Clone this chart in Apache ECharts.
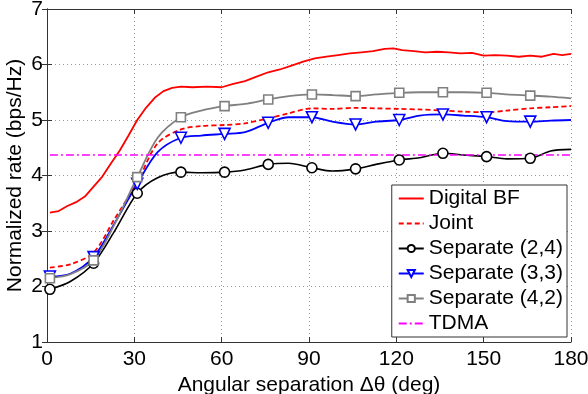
<!DOCTYPE html>
<html>
<head>
<meta charset="utf-8">
<script src="https://cdn.jsdelivr.net/npm/echarts@6/dist/echarts.min.js"></script>
<style>
  html, body { margin: 0; padding: 0; background: #fff; }
  #main { width: 588px; height: 394px; }
</style>
</head>
<body>
<div id="main"></div>
<script>
// angles (deg)
var angles = [1, 8, 16, 23, 31, 38, 46, 53, 61, 68, 76, 83, 91, 98, 106, 113, 121, 128, 136, 143, 151, 158, 166, 173, 180]
var markerAngles = [1, 16, 31, 46, 61, 76, 91, 106, 121, 136, 151, 166]

var bfAngles = [1, 4, 7, 10, 13, 16, 19, 22, 25, 28, 31, 34, 37, 40, 43, 46, 50, 55, 60, 64, 68, 72, 76, 80, 84, 88, 92, 96, 100, 104, 108, 112, 116, 119, 122, 126, 130, 134, 138, 142, 146, 150, 154, 158, 162, 166, 170, 174, 177, 180]
var digitalBF = [3.33, 3.36, 3.45, 3.52, 3.62, 3.80, 3.98, 4.22, 4.45, 4.72, 5.00, 5.22, 5.40, 5.52, 5.58, 5.60, 5.59, 5.60, 5.59, 5.65, 5.70, 5.78, 5.86, 5.91, 5.98, 6.05, 6.11, 6.14, 6.17, 6.20, 6.22, 6.24, 6.28, 6.29, 6.26, 6.24, 6.22, 6.23, 6.22, 6.20, 6.21, 6.16, 6.17, 6.16, 6.14, 6.16, 6.14, 6.19, 6.17, 6.19]

var joint = [2.34, 2.40, 2.61, 3.20, 3.88, 4.58, 4.83, 4.89, 4.91, 4.94, 5.03, 5.12, 5.21, 5.20, 5.22, 5.21, 5.20, 5.19, 5.17, 5.15, 5.14, 5.17, 5.21, 5.23, 5.25]
var sep24 = [1.95, 2.09, 2.42, 2.98, 3.68, 3.96, 4.06, 4.05, 4.06, 4.10, 4.20, 4.22, 4.14, 4.08, 4.12, 4.20, 4.28, 4.32, 4.40, 4.37, 4.34, 4.30, 4.31, 4.44, 4.47]
var sep33 = [2.18, 2.23, 2.53, 3.12, 3.85, 4.42, 4.68, 4.72, 4.75, 4.78, 4.95, 5.05, 5.05, 4.97, 4.92, 4.97, 5.00, 5.08, 5.10, 5.08, 5.05, 4.98, 4.97, 4.99, 5.00]
var sep42 = [2.15, 2.22, 2.47, 3.10, 3.97, 4.68, 5.05, 5.17, 5.25, 5.29, 5.37, 5.43, 5.46, 5.45, 5.43, 5.46, 5.49, 5.50, 5.50, 5.50, 5.49, 5.46, 5.44, 5.42, 5.39]

var tdmaAngles = [1, 180]
var tdma = [4.37, 4.37]

var names = ['Digital BF', 'Joint', 'Separate (2,4)', 'Separate (3,3)', 'Separate (4,2)', 'TDMA']

var font = 'Liberation Sans, Arial, sans-serif'

function pairs(xs, ys) {
    return xs.map(function (x, i) { return [x, ys[i]] })
}

// markers only at markerAngles
function marked(xs, ys) {
    return xs.map(function (x, i) {
        if (markerAngles.indexOf(x) >= 0) return [x, ys[i]]
        return { value: [x, ys[i]], symbol: 'none' }
    })
}

// plain line in the legend (no symbol)
var noMark = { color: 'rgba(0,0,0,0)', borderColor: 'rgba(0,0,0,0)', borderWidth: 0 }

var myChart = echarts.init(document.getElementById('main'))

var axisLine = { show: true, lineStyle: { color: '#333', width: 1 } }

myChart.setOption({
    animation: false,
    backgroundColor: '#fff',
    textStyle: { fontFamily: font },
    grid: { left: 47, right: 17, top: 9, bottom: 52, outerBoundsMode: 'none' },
    legend: {
        data: [
            { name: names[0], itemStyle: noMark },
            { name: names[1], itemStyle: noMark },
            names[2], names[3], names[4],
            { name: names[5], itemStyle: noMark }
        ],
        orient: 'vertical',
        right: 21,
        bottom: 57,
        backgroundColor: '#fff',
        borderColor: '#333',
        borderWidth: 1,
        borderRadius: 0,
        padding: [3, 4, 3, 6],
        itemWidth: 25,
        itemHeight: 9,
        itemGap: 4,
        textStyle: { fontFamily: font, fontSize: 21, color: '#000', lineHeight: 21 }
    },
    xAxis: [
        {
            type: 'value', min: 0, max: 180, interval: 30,
            name: 'Angular separation \u0394\u03b8 (deg)',
            nameLocation: 'middle', nameGap: 33, nameMoveOverlap: false,
            nameTextStyle: { fontFamily: font, fontSize: 21, color: '#000' },
            axisLine: axisLine,
            axisTick: { show: true, inside: true, length: 5, lineStyle: { color: '#333' } },
            axisLabel: { fontFamily: font, fontSize: 21, color: '#000', margin: 7 },
            splitLine: { show: true, lineStyle: { color: '#999', type: [1, 3] } }
        },
        {
            type: 'value', min: 0, max: 180, interval: 30, position: 'top',
            axisLine: axisLine,
            axisTick: { show: true, inside: true, length: 5, lineStyle: { color: '#333' } },
            axisLabel: { show: false },
            splitLine: { show: false }
        }
    ],
    yAxis: [
        {
            type: 'value', min: 1, max: 7, interval: 1,
            name: 'Normalized rate (bps/Hz)',
            nameLocation: 'middle', nameGap: 21, nameMoveOverlap: false,
            nameTextStyle: { fontFamily: font, fontSize: 21, color: '#000' },
            axisLine: axisLine,
            axisTick: { show: true, inside: true, length: 5, lineStyle: { color: '#333' } },
            axisLabel: { fontFamily: font, fontSize: 21, color: '#000', margin: 4 },
            splitLine: { show: true, lineStyle: { color: '#999', type: [1, 3] } }
        },
        {
            type: 'value', min: 1, max: 7, interval: 1, position: 'right',
            axisLine: axisLine,
            axisTick: { show: true, inside: true, length: 5, lineStyle: { color: '#333' } },
            axisLabel: { show: false },
            splitLine: { show: false }
        }
    ],
    series: [
        {
            name: names[0], type: 'line', symbol: 'none',
            data: pairs(bfAngles, digitalBF),
            lineStyle: { color: '#ff0000', width: 1.8 },
            itemStyle: { color: '#ff0000' }
        },
        {
            name: names[1], type: 'line', symbol: 'none', smooth: 0.3,
            data: pairs(angles, joint),
            lineStyle: { color: '#ff0000', width: 1.8, type: [5, 3] },
            itemStyle: { color: '#ff0000' }
        },
        {
            name: names[2], type: 'line', smooth: 0.3,
            symbol: 'circle', symbolSize: 10, showSymbol: true,
            data: marked(angles, sep24),
            lineStyle: { color: '#000', width: 1.6 },
            itemStyle: { color: '#fff', borderColor: '#000', borderWidth: 1.6 }
        },
        {
            name: names[3], type: 'line', smooth: 0.3,
            symbol: 'triangle', symbolRotate: 180, symbolSize: 11, showSymbol: true,
            data: marked(angles, sep33),
            lineStyle: { color: '#0000ff', width: 1.8 },
            itemStyle: { color: '#fff', borderColor: '#0000ff', borderWidth: 1.6 }
        },
        {
            name: names[4], type: 'line', smooth: 0.3,
            symbol: 'rect', symbolSize: 9, showSymbol: true,
            data: marked(angles, sep42),
            lineStyle: { color: '#808080', width: 1.8 },
            itemStyle: { color: '#fff', borderColor: '#808080', borderWidth: 1.6 }
        },
        {
            name: names[5], type: 'line', symbol: 'none',
            data: pairs(tdmaAngles, tdma),
            lineStyle: { color: '#ff00ff', width: 1.6, type: [8, 3, 2, 3] },
            itemStyle: { color: '#ff00ff' }
        }
    ]
})
</script>
</body>
</html>
